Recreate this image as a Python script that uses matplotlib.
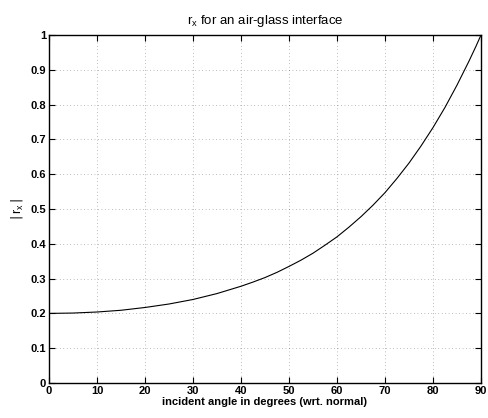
import numpy as np
import matplotlib.pyplot as plt

# incident angle (deg) and |r_x|
angle = [0, 5, 10, 15, 20, 25, 30, 35, 40, 42.5, 45, 47.5, 50, 52.5, 55, 57.5,
         60, 62.5, 65, 67.5, 70, 72.5, 75, 77.5, 80, 82.5, 85, 87.5, 89, 90]
rx = [0.200, 0.201, 0.204, 0.209, 0.217, 0.227, 0.240, 0.257, 0.278, 0.290,
      0.303, 0.318, 0.335, 0.353, 0.373, 0.396, 0.420, 0.448, 0.478, 0.511,
      0.547, 0.588, 0.632, 0.681, 0.734, 0.792, 0.856, 0.925, 0.969, 1.000]

xticks = list(range(0, 91, 10))
yticks = [0, 0.1, 0.2, 0.3, 0.4, 0.5, 0.6, 0.7, 0.8, 0.9, 1]
ytick_labels = ['0', '0.1', '0.2', '0.3', '0.4', '0.5', '0.6', '0.7', '0.8', '0.9', '1']

plt.rcParams['font.family'] = ['Liberation Sans', 'DejaVu Sans']

fig = plt.figure(figsize=(4.89, 4.18), dpi=100)
ax = fig.add_axes([49/489, 1 - 383/418, (481-49)/489, (383-35)/418])

ax.plot(angle, rx, color='black', lw=0.8)

ax.set_xlim(0, 90); ax.set_ylim(0, 1)
ax.set_xticks(xticks)
ax.set_yticks(yticks)
ax.set_yticklabels(ytick_labels)
ax.tick_params(direction='in', top=True, right=True, length=4, width=0.8,
               labelsize=8, pad=2)
for lbl in ax.get_xticklabels() + ax.get_yticklabels():
    lbl.set_fontweight('bold')
ax.grid(True, linestyle=(0, (1, 4)), color='black', lw=0.5, alpha=0.5)
for s in ax.spines.values():
    s.set_linewidth(1.0)

ax.set_xlabel('incident angle in degrees (wrt. normal)', fontsize=8,
              fontweight='bold', labelpad=1)
ax.set_ylabel(r'$|\,\mathregular{r_x}\,|$', fontsize=9, labelpad=4)
ax.set_title(r'$\mathregular{r_x}$ for an air-glass interface', fontsize=9.5,
             pad=8)

fig.savefig('out.png', dpi=100)
